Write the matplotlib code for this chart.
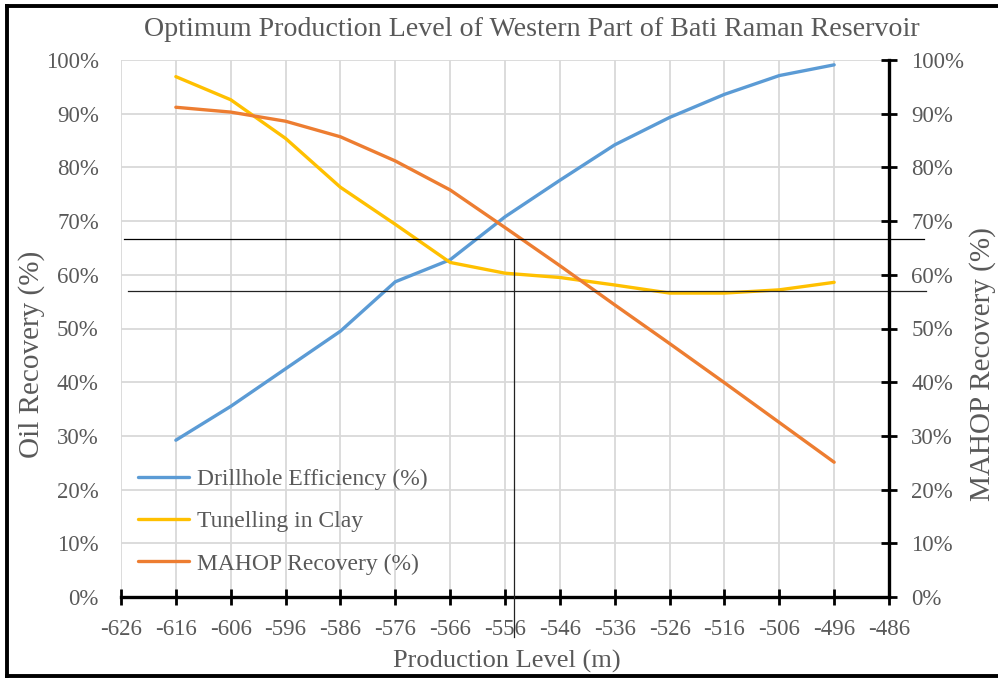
import matplotlib.pyplot as plt
from matplotlib.ticker import PercentFormatter
from matplotlib.lines import Line2D

# production level (m)
levels = [-616, -606, -596, -586, -576, -566, -556, -546, -536, -526, -516, -506, -496]

# values in %
drillhole = [29.2, 35.5, 42.5, 49.5, 58.7, 62.8, 70.8, 77.6, 84.2, 89.3, 93.6, 97.1, 99.1]
tunelling = [96.9, 92.6, 85.4, 76.3, 69.4, 62.3, 60.3, 59.5, 58.1, 56.6, 56.6, 57.2, 58.6]
mahop = [91.2, 90.3, 88.6, 85.7, 81.2, 75.8, 68.8, 61.7, 54.4, 47.2, 39.9, 32.5, 25.1]

series_names = ["Drillhole Efficiency (%)", "Tunelling in Clay", "MAHOP Recovery (%)"]
colors = ["#5b9bd5", "#ffc000", "#ed7d31"]

xticks = list(range(-626, -485, 10))
yticks = list(range(0, 101, 10))

# black guide lines drawn on the chart (data units)
guide_h = [66.7, 57.0]
guide_v = -554.3

grey = "#595959"
plt.rcParams['font.family'] = ['Liberation Serif', 'DejaVu Serif']
plt.rcParams['axes.unicode_minus'] = False

fig = plt.figure(figsize=(9.98, 6.78), dpi=100)
ax = fig.add_axes([121 / 998, 1 - 597 / 678, (889 - 121) / 998, (597 - 60) / 678])

for vals, name, c in zip([drillhole, tunelling, mahop], series_names, colors):
    ax.plot(levels, vals, color=c, lw=2.4, label=name, solid_capstyle='round', zorder=3)

ax.set_xlim(-626, -486)
ax.set_ylim(0, 100)
ax.set_xticks(xticks)
ax.set_yticks(yticks)
ax.yaxis.set_major_formatter(PercentFormatter(decimals=0))
ax.grid(True, color="#d9d9d9", lw=1.3, zorder=0)
ax.set_axisbelow(True)

for s in ["left", "top", "right"]:
    ax.spines[s].set_visible(False)
ax.spines["bottom"].set_linewidth(2.4)
ax.spines["bottom"].set_zorder(4)
ax.tick_params(axis="x", direction="inout", length=11, width=2, colors="black",
               labelcolor=grey, labelsize=16.5, pad=10)
ax.tick_params(axis="y", length=0, labelcolor=grey, labelsize=16.5, pad=16)

ax2 = ax.twinx()
ax2.set_ylim(0, 100)
ax2.set_yticks(yticks)
ax2.yaxis.set_major_formatter(PercentFormatter(decimals=0))
for s in ["left", "top", "bottom"]:
    ax2.spines[s].set_visible(False)
ax2.spines["right"].set_linewidth(2.4)
ax2.tick_params(axis="y", direction="inout", length=11, width=2, colors="black",
                labelcolor=grey, labelsize=16.5, pad=10.5)

# guide lines
ax.add_line(Line2D([-625.5, -479.6], [guide_h[0]] * 2, color="black", lw=0.9, clip_on=False, zorder=5))
ax.add_line(Line2D([-624.8, -479.2], [guide_h[1]] * 2, color="#222222", lw=0.9, clip_on=False, zorder=5))
ax.add_line(Line2D([guide_v] * 2, [guide_h[0], -7.4], color="#222222", lw=0.9, clip_on=False, zorder=5))

ax.legend(loc="lower left", bbox_to_anchor=(0.0, 0.011), frameon=False, fontsize=17,
          labelcolor=grey, handlelength=2.2, handletextpad=0.3, labelspacing=0.88,
          borderaxespad=0.3)

fig.text(0.533, 0.957, "Optimum Production Level of Western Part of Bati Raman Reservoir",
         ha="center", va="center", color=grey, fontsize=20.2)
fig.text(0.508, 0.025, "Production Level (m)", ha="center", va="center", color=grey, fontsize=19)
fig.text(0.032, 1 - 354 / 678, "Oil Recovery (%)", ha="center", va="center", rotation=90,
         color=grey, fontsize=21)
fig.text(0.984, 1 - 364 / 678, "MAHOP Recovery (%)", ha="center", va="center", rotation=90,
         color=grey, fontsize=21)

# outer frame
fig.add_artist(Line2D([7 / 998, 7 / 998], [2 / 678, 1 - 6 / 678], color="black", lw=2.8))
fig.add_artist(Line2D([7 / 998, 1], [1 - 6 / 678] * 2, color="black", lw=2.8))
fig.add_artist(Line2D([7 / 998, 1], [2 / 678] * 2, color="black", lw=2.8))

fig.savefig("out.png", dpi=100)
